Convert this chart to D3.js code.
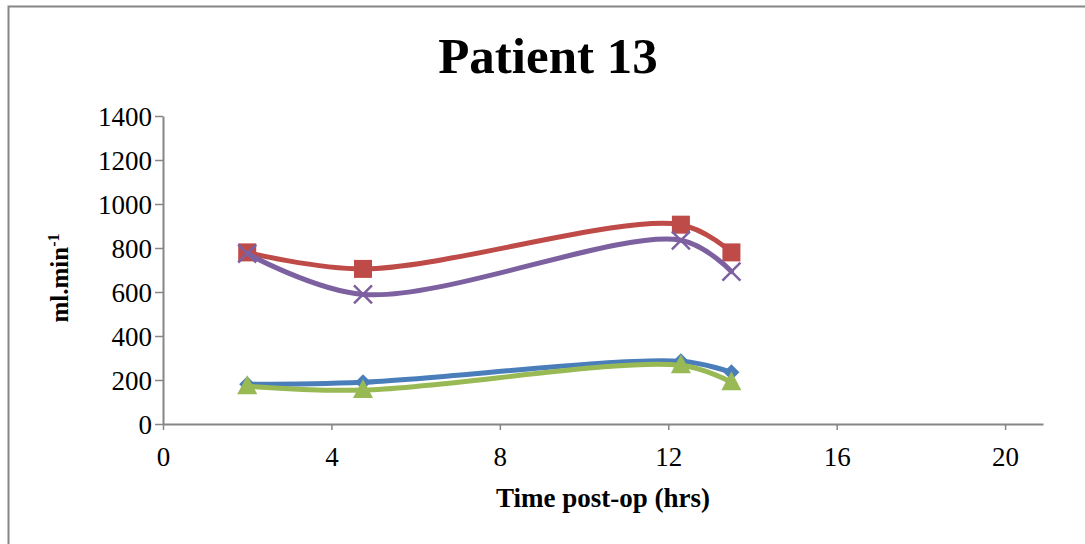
<!DOCTYPE html>
<html>
<head>
<meta charset="utf-8">
<script src="https://cdn.jsdelivr.net/npm/d3@7"></script>
<style>
  body { margin: 0; background: #fff; }
  svg { display: block; font-family: "Liberation Serif", "DejaVu Serif", serif; }
</style>
</head>
<body>
<div id="chart"></div>
<script>
// data
var hours = [2, 4.75, 12.3, 13.5];
var seriesNames = ['Blue', 'Red', 'Green', 'Purple'];
var blueValues = [181, 190, 285, 235];
var redValues = [780, 705, 906, 780];
var greenValues = [172, 154, 267, 190];
var purpleValues = [775, 589, 835, 693];
var xTicks = [0, 4, 8, 12, 16, 20];
var yTicks = [0, 200, 400, 600, 800, 1000, 1200, 1400];

var width = 1085;
var height = 544;
var margins = { top: 116, right: 42, bottom: 120, left: 163 };
var innerWidth = width - margins.left - margins.right;
var innerHeight = height - margins.top - margins.bottom;

var svg = d3.select('#chart')
    .append('svg')
    .attr('width', width)
    .attr('height', height);

// chart border (only top and left edges are inside the picture)
svg.append('path')
    .attr('d', 'M8.5,' + height + 'V6.5H' + width)
    .style('fill', 'none')
    .style('stroke', '#868686')
    .style('stroke-width', 2);

var g = svg.append('g')
    .attr('transform', 'translate(' + margins.left + ',' + margins.top + ')');

var x = d3.scaleLinear().domain([0, 20.9]).range([0, innerWidth]);
var y = d3.scaleLinear().domain([0, 1400]).range([innerHeight, 0]);

// axes
var xAxis = g.append('g')
    .attr('transform', 'translate(0,' + innerHeight + ')')
    .call(d3.axisBottom(x).tickValues(xTicks).tickFormat(d3.format('d'))
        .tickSize(6).tickPadding(17).tickSizeOuter(0));
var yAxis = g.append('g')
    .call(d3.axisLeft(y).tickValues(yTicks).tickFormat(d3.format('d'))
        .tickSize(8).tickPadding(3).tickSizeOuter(0));

[xAxis, yAxis].forEach(function(a) {
    a.select('.domain').style('stroke', '#868686').style('stroke-width', 2);
    a.selectAll('.tick line').style('stroke', '#868686').style('stroke-width', 1.5);
    a.selectAll('.tick text')
        .style('font-family', '"Liberation Serif", serif')
        .style('font-size', '27px')
        .style('fill', '#000');
});
yAxis.selectAll('.tick text').attr('dy', '0.35em');

// titles
svg.append('text')
    .attr('x', 548)
    .attr('y', 73)
    .attr('text-anchor', 'middle')
    .style('font-size', '51px')
    .style('font-weight', 'bold')
    .text('Patient 13');

svg.append('text')
    .attr('x', 603)
    .attr('y', 507)
    .attr('text-anchor', 'middle')
    .style('font-size', '27px')
    .style('font-weight', 'bold')
    .text('Time post-op (hrs)');

var yLabel = svg.append('text')
    .attr('transform', 'translate(68,278) rotate(-90)')
    .attr('text-anchor', 'middle')
    .style('font-size', '25px')
    .style('font-weight', 'bold');
yLabel.append('tspan').text('ml.min');
yLabel.append('tspan').attr('dy', -9).style('font-size', '16px').text('-1');

// series
var series = [
    { name: seriesNames[0], values: blueValues, color: '#4A7EBB', marker: 'diamond' },
    { name: seriesNames[1], values: redValues, color: '#BE4B48', marker: 'square' },
    { name: seriesNames[2], values: greenValues, color: '#98B954', marker: 'triangle' },
    { name: seriesNames[3], values: purpleValues, color: '#7D60A0', marker: 'cross' }
];

var line = d3.line()
    .x(function(d) { return x(d[0]); })
    .y(function(d) { return y(d[1]); })
    .curve(d3.curveCatmullRom.alpha(0.5));

series.forEach(function(s) {
    var pts = hours.map(function(h, i) { return [h, s.values[i]]; });
    var sg = g.append('g').attr('class', 'series');

    sg.append('path')
        .datum(pts)
        .attr('d', line)
        .style('fill', 'none')
        .style('stroke', s.color)
        .style('stroke-width', 5)
        .style('stroke-linecap', 'round');

    var marks = sg.selectAll('.mark')
        .data(pts)
        .enter()
        .append('g')
        .attr('class', 'mark')
        .attr('transform', function(d) {
            return 'translate(' + x(d[0]) + ',' + y(d[1]) + ')';
        });

    if (s.marker === 'square') {
        marks.append('rect')
            .attr('x', -9).attr('y', -9).attr('width', 18).attr('height', 18)
            .style('fill', s.color);
    } else if (s.marker === 'diamond') {
        marks.append('path')
            .attr('d', 'M0,-8L8,0L0,8L-8,0Z')
            .style('fill', s.color);
    } else if (s.marker === 'triangle') {
        marks.append('path')
            .attr('d', 'M0,-11L10,8L-10,8Z')
            .style('fill', s.color);
    } else {
        marks.append('path')
            .attr('d', 'M-9,-9L9,9M-9,9L9,-9')
            .style('stroke', s.color)
            .style('stroke-width', 2.5);
    }
});
</script>
</body>
</html>
